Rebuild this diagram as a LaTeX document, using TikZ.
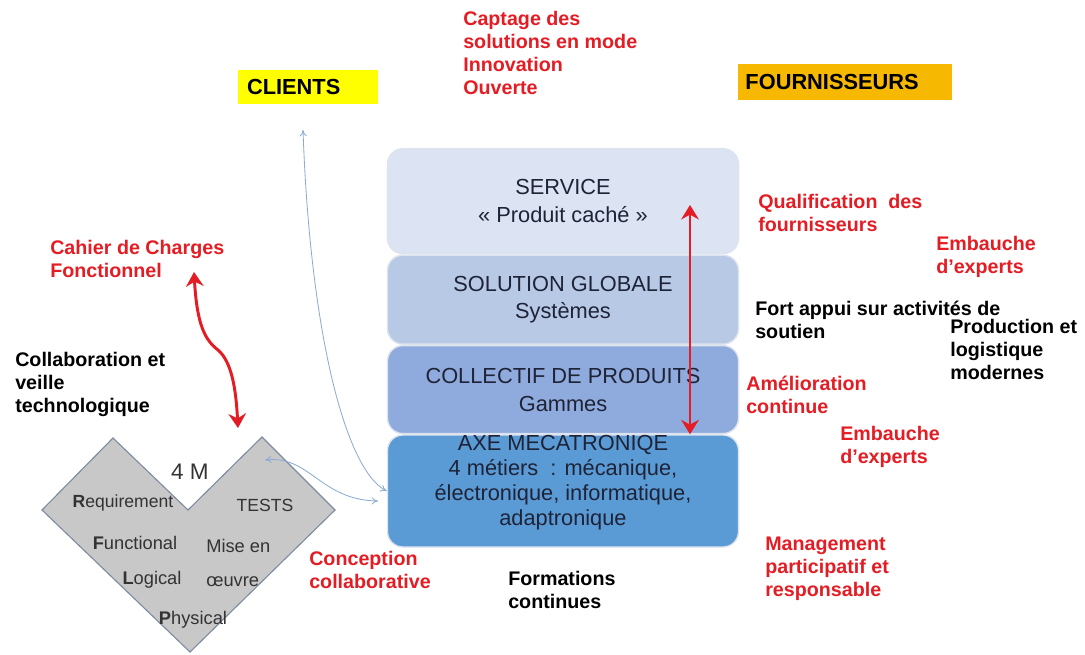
\documentclass[tikz,border=0pt]{standalone}
\usepackage{fontspec}
\setmainfont{Liberation Sans}
\usetikzlibrary{arrows.meta, positioning, calc}

\definecolor{notered}{RGB}{228,28,36}
\definecolor{clientyellow}{RGB}{255,255,0}
\definecolor{fourngold}{RGB}{246,184,0}
\definecolor{servfill}{RGB}{220,227,242}
\definecolor{solfill}{RGB}{184,201,230}
\definecolor{colfill}{RGB}{143,170,220}
\definecolor{axefill}{RGB}{91,155,213}
\definecolor{stackedge}{RGB}{222,228,238}
\definecolor{stacktext}{RGB}{30,35,55}
\definecolor{vgray}{RGB}{200,200,200}
\definecolor{vedge}{RGB}{125,140,160}
\definecolor{linkblue}{RGB}{140,172,212}

\begin{document}
\begin{tikzpicture}[
    x=0.025cm, y=-0.025cm,
    stackbox/.style={draw=stackedge, line width=1pt, rounded corners=11pt,
                     minimum width=8.775cm, inner sep=0pt, align=center,
                     text=stacktext, font=\fontsize{15.5}{19.8}\selectfont},
    tag/.style={anchor=west, font=\fontsize{15.5}{18}\selectfont\bfseries,
                inner xsep=0.22cm, inner ysep=0pt, align=left},
    note/.style={anchor=north west, inner sep=0pt, align=left, text=notered,
                 font=\fontsize{14}{16.4}\selectfont\bfseries},
    plain/.style={note, text=black},
    vlab/.style={inner sep=0pt, text=black!80, font=\fontsize{12.5}{17.5}\selectfont},
    flow/.style={{Stealth[length=3.6mm, width=4.4mm, inset=1.2mm]}-{Stealth[length=3.6mm, width=4.4mm, inset=1.2mm]},
                 draw=notered, line width=2.1pt},
    arr/.style={{To[length=1.6mm, width=1.8mm]}-{To[length=1.6mm, width=1.8mm]},
                draw=linkblue, line width=0.6pt},
]

    \useasboundingbox (0,0) rectangle (1085,655);

    %==================== CLIENTS / FOURNISSEURS ====================
    \node[tag, fill=clientyellow, text width=3.06cm, minimum height=0.85cm] (clients)
        at (238,87) {CLIENTS};
    \node[tag, fill=fourngold, text width=4.985cm, minimum height=0.875cm, inner xsep=0.18cm] (fourn)
        at (738,82) {FOURNISSEURS};

    %==================== stack of offers ====================
    \node[stackbox, fill=servfill, minimum height=2.625cm, anchor=north] (service)
        at (563,148) {SERVICE\\«~Produit caché~»};
    \node[stackbox, fill=solfill, minimum height=2.225cm, below=0pt of service] (solution)
        {SOLUTION GLOBALE\\Systèmes};
    \node[stackbox, fill=colfill, minimum height=2.2cm, below=0pt of solution] (collectif)
        {COLLECTIF DE PRODUITS\\Gammes};
    \node[stackbox, fill=axefill, minimum height=2.8cm, below=0pt of collectif] (axe) {};
    \node[inner sep=0pt, align=center, text=stacktext,
          font=\fontsize{15.5}{17.7}\selectfont] (axetext) at ([yshift=0.21cm]axe.center)
        {AXE MECATRONIQE\\4 métiers\ \ : mécanique,\\électronique, informatique,\\adaptronique};

    \draw[flow] ($(axe.north)+(127,0)$) -- ($(service.north)+(127,57)$);

    %==================== 4 M chevron ====================
    \draw[fill=vgray, draw=vedge, line width=0.8pt]
        (42,510) -- (113,438) -- (188,510) -- (262,437) -- (335,510) -- (190,652) -- cycle;
    \node[vlab, font=\fontsize{16}{18}\selectfont] (fourm) at (190,472) {4 M};
    \node[vlab] (req) at (123,503) {\textbf{R}equirement};
    \node[vlab] (tests) at (265,505) {TESTS};
    \node[vlab, font=\fontsize{13}{17.5}\selectfont] (func) at (135,543) {\textbf{F}unctional};
    \node[vlab, font=\fontsize{13}{17.5}\selectfont] (logic) at (152,580) {\textbf{L}ogical};
    \node[vlab, font=\fontsize{13}{17.5}\selectfont] (phys) at (193,620) {\textbf{P}hysical};
    \node[vlab, font=\fontsize{13}{24}\selectfont, align=left, anchor=north west] (mise)
        at (206,539) {Mise en\\œuvre};

    %==================== notes ====================
    \node[note] (captage) at (463,11) {Captage des\\solutions en mode\\Innovation\\Ouverte};
    \node[note] (cdc) at (50,240) {Cahier de Charges\\Fonctionnel};
    \node[plain] (collab) at (15,352) {Collaboration et\\veille\\technologique};
    \node[note] (concep) at (309,551) {Conception\\collaborative};
    \node[plain] (forma) at (508,571) {Formations\\continues};
    \node[note] (qualif) at (758,194) {Qualification\ \ des\\fournisseurs};
    \node[note] (embA) at (936,236) {Embauche\\d'experts};
    \node[plain] (fort) at (755,301) {Fort appui sur activités de\\soutien};
    \node[plain] (prod) at (950,319) {Production et\\logistique\\modernes};
    \node[note] (amelio) at (746,376) {Amélioration\\continue};
    \node[note] (embB) at (840,426) {Embauche\\d'experts};
    \node[note] (manag) at (765,537) {Management\\participatif et\\responsable};

    %==================== links ====================
    \coordinate (cdctip) at (194,272);
    \coordinate (vtop) at (238,428);
    \draw[flow] (cdctip) .. controls (197,325) and (205,340) .. (218,350)
        .. controls (232,362) and (236,390) .. (vtop);

    \coordinate (cltip) at (303,130);
    \draw[arr] (cltip) .. controls (310,330) and (345,470) .. (axe.west);

    \coordinate (vtests) at (265,460);
    \coordinate (axein) at (378,501);
    \draw[arr] (vtests) .. controls (310,455) and (320,500) .. (axein);

\end{tikzpicture}
\end{document}
